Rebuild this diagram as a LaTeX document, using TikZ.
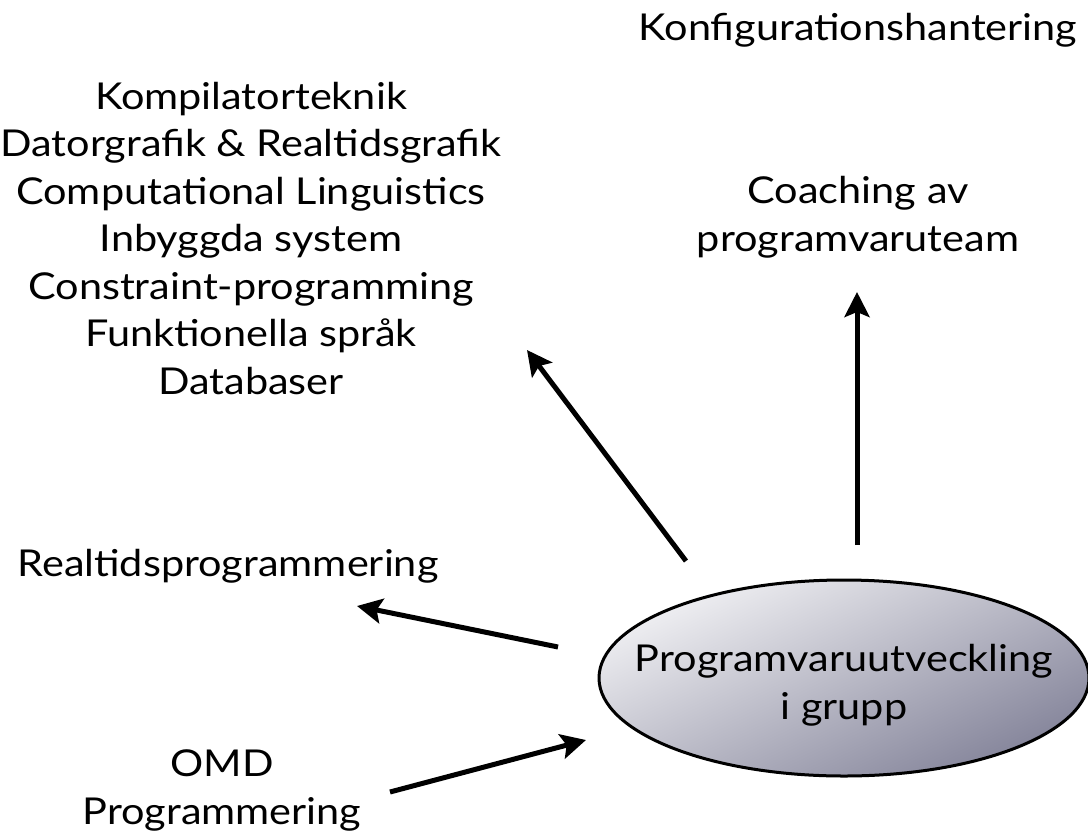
\documentclass[tikz,border=0pt]{standalone}
\usepackage{fontspec}
\setmainfont[FakeStretch=1.12]{Lato}
\usetikzlibrary{shapes.geometric,arrows.meta}
\definecolor{elltop}{HTML}{F0F0F3}
\definecolor{ellbot}{HTML}{84849A}
\tikzset{
  topic/.style={align=center,font=\fontsize{37}{47.5}\selectfont,inner sep=0pt,anchor=base},
  course/.style={-{Stealth[length=25pt,width=25pt,inset=5pt]},line width=5pt},
}

\begin{document}
\begin{tikzpicture}[x=1pt,y=-1pt]
    \useasboundingbox (0,0) rectangle (1088,839);
    % anchor=base is the baseline of the last line
    \node [topic] (konf) at (858,40) {Konfigurationshantering};
    \node [topic] (valfria) at (251,394) {Kompilatorteknik\\Datorgrafik \& Realtidsgrafik\\Computational Linguistics\\Inbyggda system\\Constraint-programming\\Funktionella språk\\Databaser};
    \node [topic] (coach) at (858,251) {Coaching av\\programvaruteam};
    \node [topic] (rtp) at (228,576) {Realtidsprogrammering};
    \node [topic] (omd) at (222,824) {OMD\\Programmering};
    \node [ellipse,draw,line width=3pt,minimum width=490,minimum height=196,
           top color=elltop,bottom color=ellbot,shading angle=25] (pug) at (844,678) {};
    \node [topic] (pugtext) at (844,719) {Programvaruutveckling\\i grupp};

    % arrow ends
    \coordinate (a1) at (686,561);
    \coordinate (b1) at (527,350);
    \coordinate (a2) at (857,545);
    \coordinate (b2) at (857,292);
    \coordinate (a3) at (558,647);
    \coordinate (b3) at (357,606);
    \coordinate (a4) at (390,792);
    \coordinate (b4) at (586,740);

    \draw [course] (a1) -- (b1);
    \draw [course] (a2) -- (b2);
    \draw [course] (a3) -- (b3);
    \draw [course] (a4) -- (b4);
\end{tikzpicture}
\end{document}
